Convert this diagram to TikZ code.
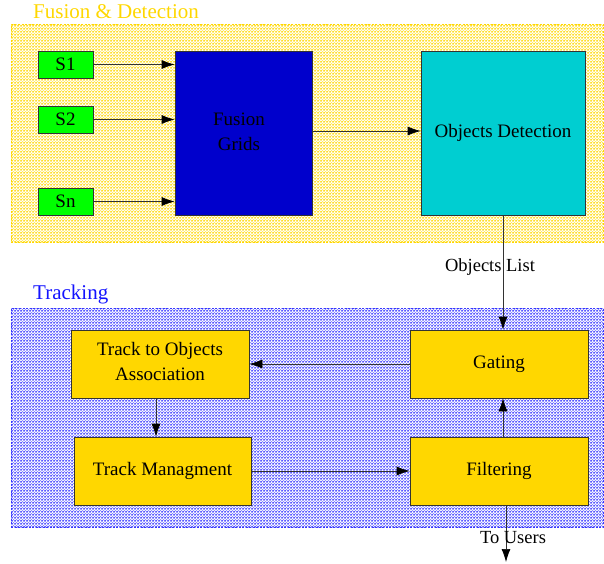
\documentclass[tikz,border=0pt]{standalone}
\usepackage{fontspec}
\setmainfont{Liberation Serif}
\usetikzlibrary{arrows.meta,patterns}
\definecolor{goldc}{RGB}{255,215,0}
\definecolor{trackblue}{RGB}{20,20,255}
\definecolor{gridblue}{RGB}{0,0,204}
\definecolor{odcyan}{RGB}{0,206,209}
\definecolor{sgreen}{RGB}{0,255,0}
\definecolor{linegray}{RGB}{50,50,50}
\tikzset{
  region/.style={draw=#1, dash pattern=on 2pt off 1.5pt, line width=0.8pt, inner sep=0pt,
    pattern=crosshatch, pattern color=#1},
  box/.style={draw=black!80, line width=0.7pt, inner sep=0pt, align=center,
    font=\fontsize{19}{25}\selectfont},
  conn/.style={draw=linegray, line width=0.7pt, -{Latex[length=13pt,width=9pt,black]}},
  title/.style={font=\fontsize{21}{24}\selectfont, anchor=west, inner sep=0pt},
  lbl/.style={font=\fontsize{18.5}{20}\selectfont, inner sep=0pt}
}
\begin{document}
\begin{tikzpicture}[x=1pt,y=-1pt]
\useasboundingbox (0,0) rectangle (604,563);
% regions
\node[region=goldc, minimum width=592pt, minimum height=218pt] (fusionreg) at (307,133) {};
\node[region=trackblue!85, minimum width=592pt, minimum height=219pt] (trackreg) at (307,417.5) {};
\node[title, text=goldc] (fusiontitle) at (33,12) {Fusion \& Detection};
\node[title, text=trackblue] (tracktitle) at (33,294) {Tracking};
% fusion nodes
\node[box, fill=sgreen, minimum width=55pt, minimum height=27pt] (S1) at (65.5,64.5) {S1};
\node[box, fill=sgreen, minimum width=55pt, minimum height=27pt] (S2) at (65.5,119.5) {S2};
\node[box, fill=sgreen, minimum width=55pt, minimum height=27pt] (Sn) at (65.5,201.5) {Sn};
\node[box, fill=gridblue, minimum width=137pt, minimum height=164pt] (FG) at (243.5,133) {};
\node[lbl, align=center, font=\fontsize{19}{25}\selectfont] (FGtext) at (239,132) {Fusion\\Grids};
\node[box, fill=odcyan, minimum width=164pt, minimum height=164pt] (OD) at (503,133) {Objects Detection};
% tracking nodes
\node[box, fill=goldc, minimum width=178pt, minimum height=68pt, text depth=6pt] (TOA) at (160,364) {Track to Objects\\Association};
\node[box, fill=goldc, minimum width=177pt, minimum height=68pt] (TM) at (162.5,471) {Track Managment};
\node[box, fill=goldc, minimum width=178pt, minimum height=68pt] (G) at (499,364) {Gating};
\node[box, fill=goldc, minimum width=178pt, minimum height=68pt] (F) at (499,471) {Filtering};
% connectors
\draw[conn] (S1.east) -- (S1.east -| FG.west);
\draw[conn] (S2.east) -- (S2.east -| FG.west);
\draw[conn] (Sn.east) -- (Sn.east -| FG.west);
\draw[conn] ([yshift=2pt]FG.east) -- ([yshift=2pt]OD.west);
\draw[conn] (OD.south) -- ([xshift=4pt]G.north);
\node[lbl] (objlist) at (490,267) {Objects List};
\draw[conn] (G.west) -- (G.west -| TOA.east);
\draw[conn] ([xshift=-4pt]TOA.south) -- ([xshift=-4pt]TOA.south |- TM.north);
\draw[conn] (TM.east) -- (TM.east -| F.west);
\draw[conn] ([xshift=4pt]F.north) -- ([xshift=4pt]G.south);
\coordinate (users) at (506,562);
\draw[conn] (F.south -| users) -- (users);
\node[lbl] (touserslbl) at (513,538) {To Users};
\end{tikzpicture}
\end{document}
